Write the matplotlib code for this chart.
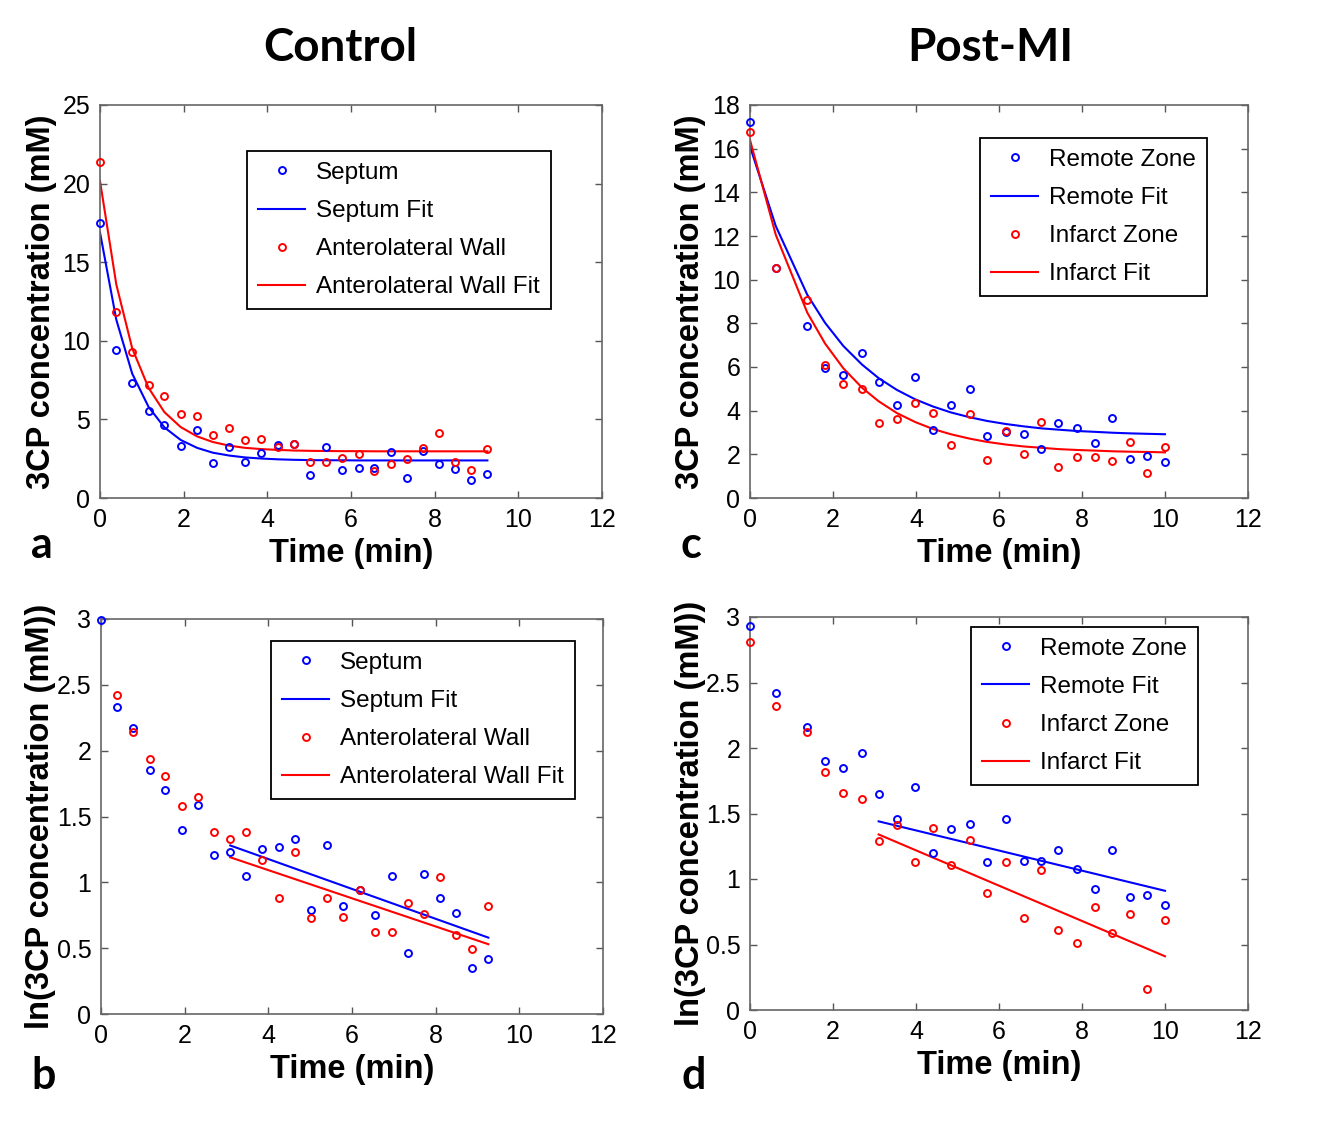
import numpy as np
import matplotlib
matplotlib.use('Agg')
import matplotlib.pyplot as plt
from matplotlib.lines import Line2D

plt.rcParams['font.family'] = ['Liberation Sans', 'DejaVu Sans']

# ---- data ----
# Control (panels a, b): one sample every ~23 s
t_ctrl = [0, 0.39, 0.77, 1.16, 1.54, 1.93, 2.32, 2.70, 3.09, 3.47, 3.86, 4.25, 4.63,
          5.02, 5.40, 5.79, 6.18, 6.56, 6.95, 7.33, 7.72, 8.11, 8.49, 8.88, 9.26]
septum = [17.5, 9.43, 7.31, 5.53, 4.62, 3.31, 4.32, 2.22, 3.24, 2.29, 2.86, 3.35, 3.45,
          1.48, 3.24, 1.76, 1.89, 1.91, 2.92, 1.27, 2.97, 2.18, 1.82, 1.12, 1.55]
septum_fit = [16.89, 11.34, 7.91, 5.80, 4.49, 3.69, 3.19, 2.88, 2.70, 2.58, 2.51, 2.46, 2.43,
              2.41, 2.40, 2.40, 2.39, 2.39, 2.39, 2.39, 2.39, 2.39, 2.39, 2.39, 2.39]
wall = [21.4, 11.86, 9.28, 7.16, 6.50, 5.34, 5.23, 4.00, 4.45, 3.67, 3.77, 3.24, 3.41,
        2.29, 2.29, 2.54, 2.78, 1.72, 2.14, 2.48, 3.20, 4.13, 2.29, 1.76, 3.09]
wall_fit = [20.17, 13.58, 9.52, 7.01, 5.46, 4.51, 3.92, 3.56, 3.33, 3.19, 3.11, 3.06, 3.02,
            3.00, 2.99, 2.98, 2.98, 2.97, 2.97, 2.97, 2.97, 2.97, 2.97, 2.97, 2.97]

ln_septum = [2.99, 2.33, 2.17, 1.85, 1.70, 1.40, 1.59, 1.21, 1.23, 1.05, 1.25, 1.27, 1.33,
             0.79, 1.28, 0.82, 0.94, 0.75, 1.05, 0.46, 1.06, 0.88, 0.77, 0.35, 0.42]
ln_wall = [np.nan, 2.42, 2.14, 1.94, 1.81, 1.58, 1.65, 1.38, 1.33, 1.38, 1.17, 0.88, 1.23,
           0.73, 0.88, 0.74, 0.94, 0.62, 0.62, 0.84, 0.76, 1.04, 0.60, 0.49, 0.82]
ln_fit_t_ctrl = [3.09, 9.26]
ln_septum_fit = [1.28, 0.58]
ln_wall_fit = [1.19, 0.53]

# Post-MI (panels c, d)
t_mi = [0, 0.62, 1.38, 1.81, 2.25, 2.70, 3.10, 3.54, 3.98, 4.41, 4.84, 5.29, 5.71,
        6.16, 6.60, 7.02, 7.43, 7.87, 8.31, 8.73, 9.16, 9.57, 10.0]
remote = [17.24, 10.54, 7.89, 5.95, 5.62, 6.63, 5.30, 4.26, 5.54, 3.12, 4.26, 5.00, 2.86,
          3.04, 2.92, 2.24, 3.42, 3.19, 2.54, 3.68, 1.78, 1.94, 1.63]
remote_fit = [16.10, 12.46, 9.31, 8.02, 6.96, 6.11, 5.49, 4.95, 4.52, 4.19, 3.92, 3.70, 3.53,
              3.39, 3.28, 3.19, 3.13, 3.07, 3.03, 2.99, 2.96, 2.94, 2.92]
infarct = [16.78, 10.54, 9.05, 6.10, 5.21, 5.01, 3.42, 3.62, 4.37, 3.91, 2.43, 3.84, 1.74,
           3.07, 2.01, 3.47, 1.40, 1.89, 1.89, 1.69, 2.58, 1.16, 2.35]
infarct_fit = [16.40, 12.06, 8.49, 7.07, 5.94, 5.05, 4.43, 3.89, 3.48, 3.16, 2.92, 2.72, 2.57,
               2.45, 2.36, 2.30, 2.24, 2.20, 2.17, 2.14, 2.12, 2.11, 2.09]

ln_remote = [2.93, 2.42, 2.16, 1.90, 1.85, 1.96, 1.65, 1.46, 1.70, 1.20, 1.38, 1.42, 1.13,
             1.46, 1.14, 1.14, 1.22, 1.08, 0.92, 1.22, 0.86, 0.88, 0.80]
ln_infarct = [2.81, 2.32, 2.12, 1.82, 1.66, 1.61, 1.29, 1.41, 1.13, 1.39, 1.11, 1.30, 0.89,
              1.13, 0.70, 1.07, 0.61, 0.51, 0.79, 0.59, 0.73, 0.16, 0.69]
ln_fit_t_mi = [3.10, 10.0]
ln_remote_fit = [1.44, 0.91]
ln_infarct_fit = [1.34, 0.41]

W, H = 1319, 1136
fig = plt.figure(figsize=(W / 100, H / 100), dpi=100)


def px_axes(l, t, r, b):
    return fig.add_axes([l / W, 1 - b / H, (r - l) / W, (b - t) / H])


def panel(ax, t, s1, f1_t, f1, s2, f2_t, f2, names, ylim, yticks, ylabel, leg_xy, ylab_x):
    ax.plot(t, s1, 'o', ms=5, mfc='none', mec='blue', mew=1.4, clip_on=False, zorder=3)
    ax.plot(f1_t, f1, '-', color='blue', lw=1.5)
    ax.plot(t, s2, 'o', ms=5, mfc='none', mec='red', mew=1.4, clip_on=False, zorder=3)
    ax.plot(f2_t, f2, '-', color='red', lw=1.5)
    ax.set_xlim(0, 12)
    ax.set_ylim(*ylim)
    ax.set_xticks(range(0, 13, 2))
    ax.set_yticks(yticks)
    ax.set_yticklabels(['%g' % v for v in yticks])
    ax.tick_params(direction='in', top=True, right=True, length=5, width=1,
                   color='#555555', labelsize=18, pad=7)
    for sp in ax.spines.values():
        sp.set_color('#666666')
        sp.set_linewidth(1.2)
    ax.set_xlabel('Time (min)', fontsize=23.5, fontweight='bold', va='center')
    ax.xaxis.set_label_coords(0.5, -0.141)
    ax.set_ylabel(ylabel, fontsize=23.5, fontweight='bold', va='center')
    ax.yaxis.set_label_coords(ylab_x, 0.5)
    handles = [
        Line2D([], [], ls='none', marker='o', ms=5, mfc='none', mec='blue', mew=1.4),
        Line2D([], [], color='blue', lw=1.5),
        Line2D([], [], ls='none', marker='o', ms=5, mfc='none', mec='red', mew=1.4),
        Line2D([], [], color='red', lw=1.5),
    ]
    leg = ax.legend(handles, names, loc='upper left',
                    bbox_to_anchor=(leg_xy[0] / W, 1 - leg_xy[1] / H),
                    bbox_transform=fig.transFigure, borderaxespad=0,
                    fontsize=17.5, fancybox=False, framealpha=1, edgecolor='black',
                    handlelength=1.95, handletextpad=0.45, labelspacing=0.66,
                    borderpad=0.45)
    leg.get_frame().set_linewidth(1.3)


ax_a = px_axes(100, 105, 602, 498)
panel(ax_a, t_ctrl, septum, t_ctrl, septum_fit, wall, t_ctrl, wall_fit,
      ['Septum', 'Septum Fit', 'Anterolateral Wall', 'Anterolateral Wall Fit'],
      (0, 25), [0, 5, 10, 15, 20, 25], '3CP concentration (mM)', (247, 151), -0.116)

ax_c = px_axes(750, 105, 1248, 498)
panel(ax_c, t_mi, remote, t_mi, remote_fit, infarct, t_mi, infarct_fit,
      ['Remote Zone', 'Remote Fit', 'Infarct Zone', 'Infarct Fit'],
      (0, 18), list(range(0, 19, 2)), '3CP concentration (mM)', (980, 138), -0.12)

ax_b = px_axes(101, 619, 603, 1014)
panel(ax_b, t_ctrl, ln_septum, ln_fit_t_ctrl, ln_septum_fit, ln_wall, ln_fit_t_ctrl, ln_wall_fit,
      ['Septum', 'Septum Fit', 'Anterolateral Wall', 'Anterolateral Wall Fit'],
      (0, 3), [0, 0.5, 1, 1.5, 2, 2.5, 3], 'ln(3CP concentration (mM))', (271, 641), -0.121)

ax_d = px_axes(750, 617, 1248, 1010)
panel(ax_d, t_mi, ln_remote, ln_fit_t_mi, ln_remote_fit, ln_infarct, ln_fit_t_mi, ln_infarct_fit,
      ['Remote Zone', 'Remote Fit', 'Infarct Zone', 'Infarct Fit'],
      (0, 3), [0, 0.5, 1, 1.5, 2, 2.5, 3], 'ln(3CP concentration (mM))', (971, 627), -0.12)

# column titles and panel letters
big = dict(family=['Lato', 'DejaVu Sans'], fontweight='bold', ha='center', va='center')
fig.text(340 / W, 1 - 48 / H, 'Control', fontsize=33, **big)
fig.text(990 / W, 1 - 48 / H, 'Post-MI', fontsize=33, **big)
for letter, x, y in [('a', 42, 545), ('c', 691, 545), ('b', 44, 1076), ('d', 694, 1076)]:
    fig.text(x / W, 1 - y / H, letter, fontsize=31, **big)

fig.savefig('out.png', dpi=100, facecolor='white')
